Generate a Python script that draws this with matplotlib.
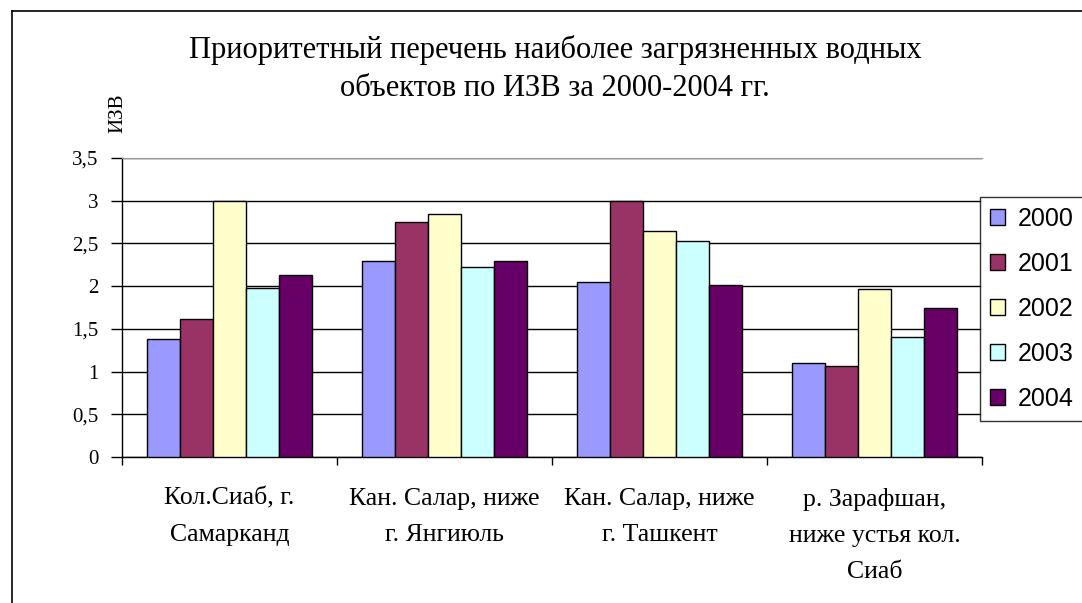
import numpy as np
import matplotlib.pyplot as plt
from matplotlib.lines import Line2D
from matplotlib.ticker import FuncFormatter

# --- data ---
categories = ['Кол.Сиаб, г.\nСамарканд',
              'Кан. Салар, ниже\nг. Янгиюль',
              'Кан. Салар, ниже\nг. Ташкент',
              'р. Зарафшан,\nниже устья кол.\nСиаб']
years = ['2000', '2001', '2002', '2003', '2004']
v2000 = [1.38, 2.30, 2.05, 1.10]
v2001 = [1.62, 2.75, 3.00, 1.07]
v2002 = [3.00, 2.84, 2.65, 1.97]
v2003 = [1.98, 2.22, 2.53, 1.40]
v2004 = [2.13, 2.30, 2.01, 1.75]
series = [v2000, v2001, v2002, v2003, v2004]
colors = ['#9999FF', '#993366', '#FFFFCC', '#CCFFFF', '#660066']

W, H = 1082, 603
fig = plt.figure(figsize=(W / 100, H / 100), dpi=100)
fig.patch.set_facecolor('white')

# plot area in pixels: left 122, right 982, top 158, bottom 457
ax = fig.add_axes([122 / W, 1 - 457 / H, (982 - 122) / W, (457 - 158) / H])

serif = ['Liberation Serif', 'DejaVu Serif']
x = np.arange(len(categories))
bw = 0.154
for i, (vals, c) in enumerate(zip(series, colors)):
    ax.bar(x + (i - 2) * bw, vals, width=bw, color=c, edgecolor='black',
           linewidth=1.0, label=years[i], zorder=3)

ax.set_xlim(-0.5, len(categories) - 0.5)
ax.set_ylim(0, 3.5)
ax.set_yticks(np.arange(0, 3.51, 0.5))
ax.yaxis.set_major_formatter(FuncFormatter(lambda v, p: ('%g' % v).replace('.', ',')))
ax.yaxis.grid(True, color='black', linewidth=1.0, zorder=0)
ax.set_axisbelow(True)

ax.set_xticks(np.arange(-0.5, len(categories), 1.0))
ax.set_xticklabels([])
ax.set_xticks(x, minor=True)
ax.set_xticklabels(categories, minor=True, fontfamily=serif, fontsize=18.5,
                   linespacing=1.85)
ax.tick_params(axis='x', which='major', length=6, width=1, direction='out')
ax.tick_params(axis='x', which='minor', length=0, pad=22)
ax.tick_params(axis='y', length=8, width=1, direction='out', pad=9)
for lab in ax.get_yticklabels():
    lab.set_fontfamily(serif)
    lab.set_fontsize(15)

ax.spines['top'].set_color('#999999')
ax.spines['right'].set_visible(False)
ax.spines['left'].set_linewidth(1.0)
ax.spines['bottom'].set_linewidth(1.0)

# title and axis label
fig.text(555 / W, 1 - 50 / H, 'Приоритетный перечень наиболее загрязненных водных',
         ha='center', va='center', fontfamily=serif, fontsize=22)
fig.text(555 / W, 1 - 88 / H, 'объектов по ИЗВ за 2000-2004 гг.',
         ha='center', va='center', fontfamily=serif, fontsize=22)
fig.text(118 / W, 1 - 113 / H, 'ИЗВ', rotation=90, ha='center', va='center',
         fontfamily=serif, fontsize=15)

# legend
leg = fig.legend(loc='upper left', bbox_to_anchor=(980 / W, 1 - 197 / H),
                 fontsize=18, frameon=True, fancybox=False, edgecolor='black',
                 handlelength=0.6, handleheight=0.6, handletextpad=0.5,
                 labelspacing=0.84, borderpad=0.4, borderaxespad=0)
leg.get_frame().set_linewidth(1.0)
for t in leg.get_texts():
    t.set_fontfamily(['Liberation Sans', 'DejaVu Sans'])

# outer chart border (right/bottom fall outside the picture)
fig.add_artist(Line2D([12 / W, 1.0], [1 - 11 / H, 1 - 11 / H], color='black', lw=1.2))
fig.add_artist(Line2D([12 / W, 12 / W], [0, 1 - 11 / H], color='black', lw=1.2))

fig.savefig('out.png', dpi=100)
